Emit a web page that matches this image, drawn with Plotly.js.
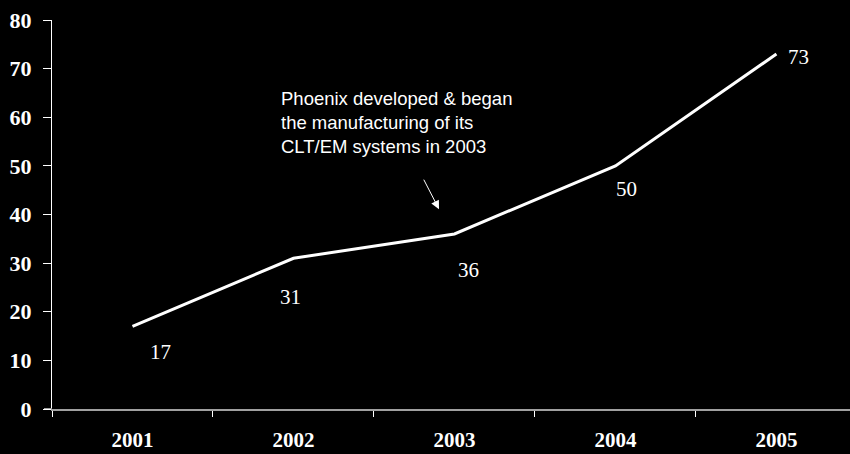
<!DOCTYPE html>
<html>
<head>
<meta charset="utf-8">
<script src="https://cdn.plot.ly/plotly-3.0.1.min.js"></script>
<style>
html,body{margin:0;padding:0;background:#000;}
#chart{width:850px;height:454px;}
</style>
</head>
<body>
<div id="chart"></div>
<script>
// Data
var years = ['2001', '2002', '2003', '2004', '2005'];
var values = [17, 31, 36, 50, 73];
var noteText = 'Phoenix developed &amp; began<br>the manufacturing of its<br>CLT/EM systems in 2003';

// Label placement (pixel offsets from each point)
var labelDX = [28, -3, 14, 11, 22];
var labelDY = [-26, -39, -36, -23, -3];

var serif = 'Liberation Serif, Times New Roman, serif';
var sans = 'Liberation Sans, Arial, sans-serif';

var annotations = years.map(function (yr, i) {
  return {
    x: i, y: values[i], xref: 'x', yref: 'y',
    text: String(values[i]), showarrow: false,
    xshift: labelDX[i], yshift: labelDY[i],
    font: {family: serif, size: 21, color: '#ffffff'}
  };
});

annotations.push({
  x: 0.91, y: 66.5, xref: 'x', yref: 'y',
  xanchor: 'left', yanchor: 'top', align: 'left',
  text: noteText, showarrow: false,
  font: {family: sans, size: 18.5, color: '#ffffff'}
});

annotations.push({
  x: 1.904, y: 41.1, xref: 'x', yref: 'y',
  text: '', showarrow: true,
  ax: -16, ay: -31, axref: 'pixel', ayref: 'pixel',
  arrowhead: 2, arrowsize: 1.7, arrowwidth: 1, arrowcolor: '#ffffff'
});

var trace = {
  x: years, y: values, type: 'scatter', mode: 'lines',
  line: {color: '#ffffff', width: 3},
  hoverinfo: 'skip'
};

var layout = {
  width: 850, height: 454,
  paper_bgcolor: '#000000', plot_bgcolor: '#000000',
  margin: {l: 52, r: 0, t: 20, b: 45, pad: 0},
  showlegend: false,
  xaxis: {
    type: 'category',
    range: [-0.5, 4.457],
    tickson: 'boundaries',
    ticks: 'outside', ticklen: 6, tickwidth: 1, tickcolor: '#ffffff',
    showline: true, linecolor: '#a0a0a0', linewidth: 2,
    showgrid: false, zeroline: false,
    ticklabelstandoff: 11,
    tickfont: {family: serif, size: 21, color: '#ffffff', weight: 'bold'}
  },
  yaxis: {
    range: [0, 80],
    tickvals: [0, 10, 20, 30, 40, 50, 60, 70, 80],
    ticks: 'outside', ticklen: 8, tickwidth: 1, tickcolor: '#ffffff',
    showline: true, linecolor: '#ffffff', linewidth: 1,
    showgrid: false, zeroline: false,
    ticklabelstandoff: 7,
    tickfont: {family: serif, size: 22, color: '#ffffff', weight: 'bold'}
  },
  shapes: [{
    type: 'line', xref: 'paper', yref: 'y',
    x0: -8 / 798, x1: 0, y0: 0, y1: 0,
    line: {color: '#a0a0a0', width: 2}
  }],
  annotations: annotations
};

Plotly.newPlot('chart', [trace], layout, {displayModeBar: false, staticPlot: true});
</script>
</body>
</html>
